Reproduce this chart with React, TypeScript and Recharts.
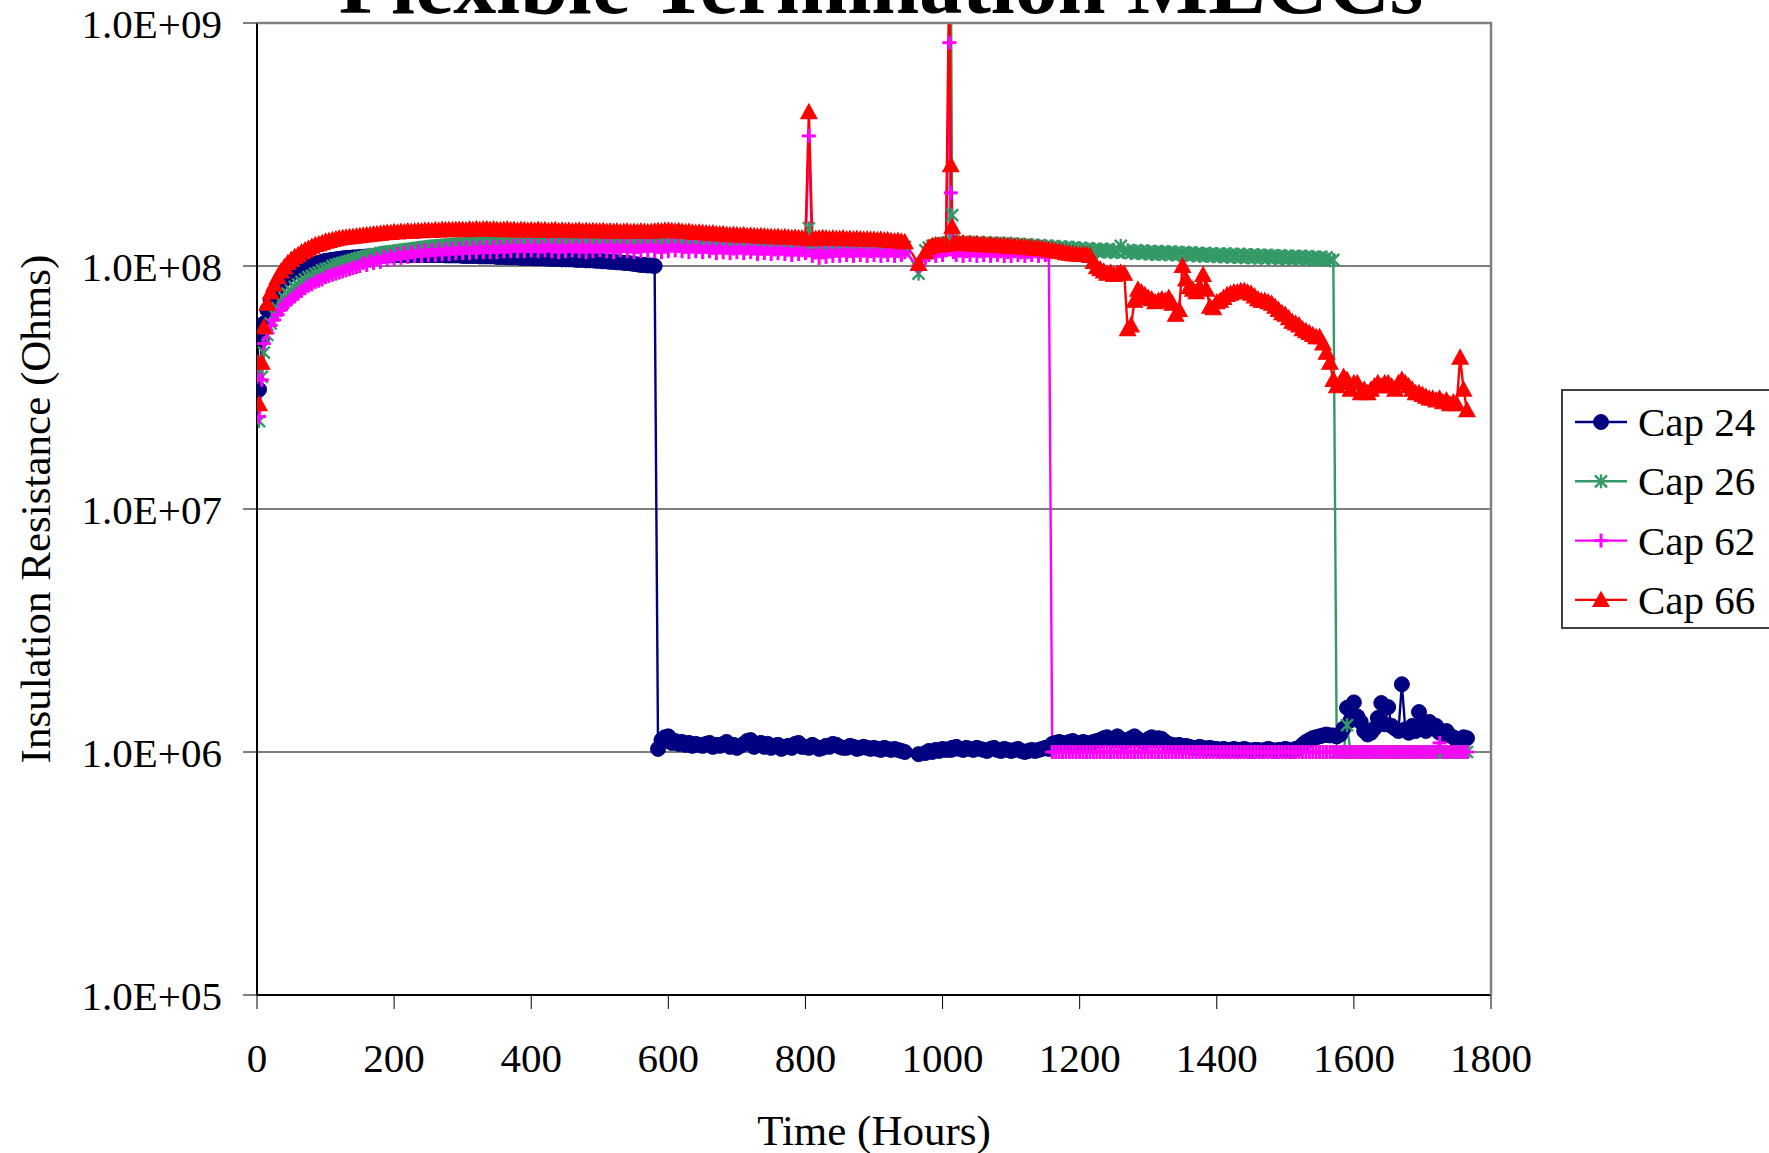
import React from 'react';
import { LineChart, Line, XAxis, YAxis, CartesianGrid } from 'recharts';

// Time in hours (shared by all four capacitors)
const HOURS = [
  0, 3, 7, 10, 15, 20, 25, 30, 35, 40, 45,
  50, 55, 60, 65, 70, 75, 80, 85, 90, 95,
  100, 105, 110, 115, 120, 125, 130, 135, 140, 145,
  150, 155, 160, 165, 170, 175, 180, 185, 190, 195,
  200, 205, 210, 215, 220, 225, 230, 235, 240, 245,
  250, 255, 260, 265, 270, 275, 280, 285, 290, 295,
  300, 305, 310, 315, 320, 325, 330, 335, 340, 345,
  350, 355, 360, 365, 370, 375, 380, 385, 390, 395,
  400, 405, 410, 415, 420, 425, 430, 435, 440, 445,
  450, 455, 460, 465, 470, 475, 480, 485, 490, 495,
  500, 505, 510, 515, 520, 525, 530, 535, 540, 545,
  550, 555, 560, 565, 570, 575, 580, 585, 590, 595,
  600, 605, 610, 615, 620, 625, 630, 635, 640, 645,
  650, 655, 660, 665, 670, 675, 680, 685, 690, 695,
  700, 705, 710, 715, 720, 725, 730, 735, 740, 745,
  750, 755, 760, 765, 770, 775, 780, 785, 790, 795,
  800, 805, 810, 815, 820, 825, 830, 835, 840, 845,
  850, 855, 860, 865, 870, 875, 880, 885, 890, 895,
  900, 905, 910, 915, 920, 925, 930, 935, 940, 945,
  965, 975, 980, 985, 990, 995, 1000, 1005, 1010, 1012, 1014, 1016,
  1020, 1025, 1030, 1035, 1040, 1045, 1050, 1055, 1060, 1065,
  1070, 1075, 1080, 1085, 1090, 1095, 1100, 1105, 1110, 1115,
  1120, 1125, 1130, 1135, 1140, 1145, 1150, 1155, 1160, 1165,
  1170, 1175, 1180, 1185, 1190, 1195, 1200, 1205, 1210, 1215,
  1220, 1225, 1230, 1235, 1240, 1245, 1250, 1255, 1260, 1265,
  1270, 1275, 1280, 1285, 1290, 1295, 1300, 1305, 1310, 1315,
  1320, 1325, 1330, 1335, 1340, 1345, 1350, 1355, 1360, 1365,
  1370, 1375, 1380, 1385, 1390, 1395, 1400, 1405, 1410, 1415,
  1420, 1425, 1430, 1435, 1440, 1445, 1450, 1455, 1460, 1465,
  1470, 1475, 1480, 1485, 1490, 1495, 1500, 1505, 1510, 1515,
  1520, 1525, 1530, 1535, 1540, 1545, 1550, 1555, 1560, 1565,
  1570, 1575, 1580, 1585, 1590, 1595, 1600, 1605, 1610, 1615,
  1620, 1625, 1630, 1635, 1640, 1645, 1650, 1655, 1660, 1665,
  1670, 1675, 1680, 1685, 1690, 1695, 1700, 1705, 1710, 1715,
  1720, 1725, 1730, 1735, 1740, 1745, 1750, 1755, 1760, 1765,
];

// Insulation resistance in megaohms
const CAP24 = [
  55, 31, 50, 58, 66, 72, 77, 81, 85, 88, 91,
  93, 95, 96, 98, 99, 100, 101, 102, 103, 104,
  105, 105.5, 106, 106.5, 107, 107.5, 108, 108, 108.5, 108.5,
  109, 109, 109.5, 109.5, 110, 110, 110, 110.5, 110.5, 110.5,
  110.5, 111, 111, 111, 111, 111, 111, 111, 111, 111,
  111, 111, 111, 111, 111, 110.5, 110.5, 110.5, 110.5, 110.5,
  110, 110, 110, 110, 110, 109.5, 109.5, 109.5, 109.5, 109.5,
  109, 109, 109, 108.5, 108.5, 108.5, 108.5, 108, 108, 108,
  108, 107.5, 107.5, 107.5, 107.5, 107, 107, 107, 107, 106.5,
  106.5, 106.5, 106.5, 106, 106, 106, 105.5, 105.5, 105.5, 105,
  105, 104.5, 104.5, 104, 104, 103.5, 103.5, 103, 103, 102.5,
  102, 101.5, 101, 101, 100.5, 100.5, 100, 1.03, 1.12, 1.15,
  1.16, 1.09, 1.11, 1.08, 1.10, 1.07, 1.09, 1.06, 1.08, 1.07,
  1.06, 1.08, 1.09, 1.05, 1.07, 1.06, 1.08, 1.10, 1.05, 1.07,
  1.04, 1.06, 1.08, 1.11, 1.12, 1.05, 1.07, 1.09, 1.05, 1.08,
  1.04, 1.06, 1.07, 1.03, 1.05, 1.06, 1.04, 1.08, 1.09, 1.05,
  1.05, 1.04, 1.07, 1.05, 1.03, 1.04, 1.06, 1.05, 1.08, 1.07,
  1.05, 1.04, 1.04, 1.06, 1.05, 1.03, 1.04, 1.05, 1.04, 1.03,
  1.04, 1.03, 1.02, 1.04, 1.03, 1.02, 1.03, 1.02, 1.01, 1.00,
  0.98, 0.99, 1.01, 1.00, 1.02, 1.01, 1.03, 1.02, 1.03, 1.02, 1.04, 1.03,
  1.05, 1.03, 1.02, 1.04, 1.03, 1.02, 1.04, 1.03, 1.02, 1.01,
  1.03, 1.04, 1.02, 1.01, 1.03, 1.02, 1.01, 1.02, 1.03, 1.01,
  1.00, 1.01, 1.02, 1.01, 1.02, 1.03, 1.04, 1.03, 1.08, 1.09,
  1.10, 1.09, 1.08, 1.10, 1.11, 1.09, 1.08, 1.10, 1.09, 1.08,
  1.10, 1.11, 1.12, 1.14, 1.15, 1.13, 1.12, 1.16, 1.13, 1.10,
  1.12, 1.14, 1.16, 1.13, 1.11, 1.10, 1.13, 1.15, 1.12, 1.14,
  1.13, 1.10, 1.08, 1.07, 1.06, 1.07, 1.05, 1.06, 1.05, 1.04,
  1.04, 1.05, 1.04, 1.03, 1.04, 1.03, 1.03, 1.02, 1.03, 1.02,
  1.02, 1.03, 1.02, 1.02, 1.03, 1.02, 1.01, 1.02, 1.02, 1.01,
  1.02, 1.03, 1.02, 1.01, 1.02, 1.02, 1.03, 1.02, 1.01, 1.03,
  1.04, 1.07, 1.10, 1.12, 1.14, 1.15, 1.16, 1.17, 1.18, 1.17,
  1.17, 1.16, 1.18, 1.25, 1.52, 1.35, 1.60, 1.40, 1.33, 1.22,
  1.18, 1.20, 1.25, 1.38, 1.59, 1.30, 1.53, 1.28, 1.25, 1.22,
  1.90, 1.24, 1.20, 1.28, 1.22, 1.46, 1.30, 1.22, 1.33, 1.25,
  1.28, 1.20, 1.18, 1.22, 1.17, 1.15, 1.12, 1.13, 1.15, 1.14,
];

const CAP26 = [
  36, 23, 35, 44, 52, 58, 63, 67, 71, 74, 77,
  79, 82, 84, 86, 88, 90, 91, 93, 94, 96,
  97, 98, 100, 101, 102, 103, 104, 105, 106, 107,
  108, 109, 110, 110.5, 111, 112, 113, 113.5, 114, 114.5,
  115, 115.5, 116, 116.5, 117, 117.5, 118, 118.5, 119, 119.5,
  120, 120.5, 121, 121, 121.5, 122, 122, 122.5, 123, 123,
  123, 123.5, 124, 124, 124, 124.5, 124.5, 125, 125, 125,
  125, 125.5, 125.5, 126, 126, 126, 126, 126, 126.5, 126.5,
  127, 127, 127, 127, 127, 127, 127, 127, 127, 127,
  127, 127, 127, 127, 127, 127, 127, 127, 127, 127,
  127, 127, 127, 127, 127, 127, 127, 127, 127, 127,
  127, 127, 127, 127, 127, 127, 127, 127, 127, 127,
  127, 127, 127, 127, 127, 127, 127, 127, 127, 127,
  126.5, 126.5, 126, 126, 126, 126, 126, 126, 125.5, 125.5,
  125.5, 125.5, 125, 125, 125, 125, 125, 125, 124.5, 124.5,
  124.5, 124.5, 124, 124, 124, 124, 124, 124, 124, 124,
  124, 143, 124, 124, 123.5, 123.5, 123.5, 123.5, 123, 123,
  123, 123, 123, 122.5, 122.5, 122.5, 122.5, 122, 122, 122,
  122, 122, 121.5, 121.5, 121.5, 121, 121, 121, 121, 120,
  93, 116, 119, 121, 122, 123, 124, 124, 125, 2000, 162, 130,
  125.5, 122.5, 125.5, 122.5, 125, 122, 125, 122, 124.5, 121.5,
  124.5, 121.5, 124, 121, 124, 120.5, 123.5, 120.5, 123, 120,
  122.5, 119.5, 122, 119, 121.5, 118.5, 121, 118, 120.5, 117.5,
  120, 117, 119.5, 116.5, 119, 116, 118.5, 115.5, 118, 115,
  117.5, 114.5, 117, 114.5, 117, 114, 116.5, 114, 121, 114,
  116, 113, 115.5, 113, 115.5, 112.5, 115, 112, 114.5, 112,
  114.5, 111.5, 114, 111.5, 114, 111, 113.5, 111, 113.5, 110.5,
  113, 110, 112.5, 110, 112.5, 109.5, 112, 109.5, 112, 109,
  112, 109, 111.5, 108.5, 111.5, 108.5, 111, 108, 111, 108,
  110.5, 108, 110.5, 107.5, 110, 107.5, 110, 107, 109.5, 107,
  109.5, 107, 109.5, 106.5, 109, 106, 108.5, 106, 108.5, 105.5,
  106, 1.0, 1.0, 1.0, 1.29, 1.0, 1.0, 1.0, 1.0, 1.0,
  1.0, 1.0, 1.0, 1.0, 1.0, 1.0, 1.0, 1.0, 1.0, 1.0,
  1.0, 1.0, 1.0, 1.0, 1.0, 1.0, 1.0, 1.0, 1.0, 1.0,
  1.0, 1.0, 1.0, 1.0, 1.0, 1.0, 1.0, 1.0, 1.0, 1.0,
];

const CAP62 = [
  35, 24, 34, 48, 53, 57, 60, 63, 66, 69, 71,
  73, 75, 77, 79, 81, 83, 84, 86, 87, 88,
  90, 91, 92, 93, 94, 95, 96, 97, 98, 99,
  100, 103, 101, 105, 103, 107, 104, 109, 106, 110,
  107, 112, 108, 113, 109, 114, 110, 115, 110, 116,
  111, 116, 111, 117, 112, 117, 112, 118, 113, 118,
  113, 119, 113, 119, 114, 119, 114, 120, 114, 120,
  114, 120, 115, 120, 115, 121, 115, 121, 115, 121,
  116, 121, 115, 120, 116, 122, 115, 121, 114, 121,
  115, 121, 116, 120, 115, 122, 114, 121, 115, 120,
  116, 121, 115, 122, 114, 120, 116, 121, 115, 121,
  114, 120, 115, 121, 116, 122, 115, 120, 114, 121,
  115, 122, 116, 121, 115, 120, 114, 121, 115, 120,
  114, 120, 115, 119, 113, 120, 114, 119, 113, 118,
  114, 119, 113, 118, 114, 119, 112, 118, 113, 118,
  112, 117, 113, 118, 112, 117, 111, 117, 112, 116,
  113, 343, 110, 116, 108, 114, 109, 115, 110, 116,
  110, 116, 111, 115, 110, 116, 111, 116, 110, 115,
  111, 116, 110, 115, 111, 116, 110, 115, 111, 114,
  100, 108, 111, 114, 110, 115, 111, 116, 830, 200, 137, 114,
  111, 116, 110, 115, 111, 116, 110, 115, 111, 116,
  110, 115, 111, 115, 110, 114, 110, 115, 111, 114,
  110, 114, 111, 115, 110, 114, 111, 112, 1.0, 1.0,
  1.0, 1.0, 1.0, 1.0, 1.0, 1.0, 1.0, 1.0, 1.0, 1.0,
  1.0, 1.0, 1.0, 1.0, 1.0, 1.0, 1.0, 1.0, 1.0, 1.0,
  1.0, 1.0, 1.0, 1.0, 1.0, 1.0, 1.0, 1.0, 1.0, 1.0,
  1.0, 1.0, 1.0, 1.0, 1.0, 1.0, 1.0, 1.0, 1.0, 1.0,
  1.0, 1.0, 1.0, 1.0, 1.0, 1.0, 1.0, 1.0, 1.0, 1.0,
  1.0, 1.0, 1.0, 1.0, 1.0, 1.0, 1.0, 1.0, 1.0, 1.0,
  1.0, 1.0, 1.0, 1.0, 1.0, 1.0, 1.0, 1.0, 1.0, 1.0,
  1.0, 1.0, 1.0, 1.0, 1.0, 1.0, 1.0, 1.0, 1.0, 1.0,
  1.0, 1.0, 1.0, 1.0, 1.0, 1.0, 1.0, 1.0, 1.0, 1.0,
  1.0, 1.0, 1.0, 1.0, 1.0, 1.0, 1.0, 1.0, 1.0, 1.0,
  1.0, 1.0, 1.0, 1.0, 1.0, 1.0, 1.0, 1.0, 1.0, 1.0,
  1.0, 1.09, 1.0, 1.0, 1.0, 1.0, 1.0, 1.0, 1.0, 1.0,
];

const CAP66 = [
  40, 27, 40, 56, 70, 78, 84, 90, 95, 99, 103,
  106, 109, 111, 114, 116, 118, 120, 122, 123, 124.5,
  126, 127, 128, 129, 130, 130.5, 131, 131.5, 132, 132.5,
  133, 133.5, 134, 134.5, 135, 135.5, 136, 136.5, 137, 137,
  138, 137.5, 138.5, 138, 139, 138.5, 139, 139.5, 139, 140,
  140, 139.5, 140.5, 140, 141, 140.5, 141, 140.5, 141, 141,
  141, 140.5, 141.5, 141, 142, 141, 141.5, 142, 141, 141.5,
  141, 140.5, 141, 141.5, 140.5, 141, 140, 141, 140.5, 140,
  140.5, 140, 141, 140, 140.5, 139.5, 140, 140.5, 139.5, 140,
  139.5, 140, 139, 139.5, 140, 139, 139.5, 139, 139.5, 139,
  139, 139.5, 138.5, 139, 138.5, 139, 138, 138.5, 139, 138,
  138.5, 138, 139, 138.5, 138, 138.5, 139, 139.5, 139, 140,
  140, 139.5, 139, 139.5, 138.5, 138, 138.5, 137.5, 137, 137.5,
  137, 136.5, 136, 136.5, 135.5, 135, 135.5, 134.5, 134, 134.5,
  134, 133.5, 134, 133, 133.5, 133, 132.5, 133, 132.5, 132,
  132, 131.5, 132, 131, 131.5, 131, 130.5, 131, 130.5, 130,
  130, 430, 129, 129.5, 130, 130.5, 130, 129.5, 130, 129.5,
  129.5, 130, 129, 129.5, 129, 129.5, 129, 128.5, 129, 128.5,
  128.5, 128, 128.5, 127.5, 128, 127, 126.5, 127, 126, 125.5,
  102, 114, 119, 121, 122, 121.5, 122, 122.5, 2000, 260, 145, 124,
  124, 123.5, 124, 123, 123.5, 122.5, 123, 122, 122.5, 121.5,
  122, 121.5, 121, 121.5, 120.5, 121, 120, 120.5, 119.5, 120,
  119, 119.5, 118.5, 118, 118.5, 117.5, 117, 116.5, 116, 115,
  114.5, 114, 113, 112.5, 112, 111.5, 111, 111.5, 111, 110,
  104, 99, 97, 95, 93, 94, 92, 93, 94, 93,
  55, 57, 72, 80, 78, 76, 74, 73, 71, 72,
  73, 72, 74, 70, 63, 66, 100, 88, 82, 80,
  78, 82, 92, 80, 68, 67, 71, 72, 74, 76,
  77, 78, 78, 79, 79, 78, 77, 75, 73, 72,
  72, 71, 70, 68, 66, 64, 63, 61, 59, 58,
  57, 55, 54, 53, 52, 51, 51, 48, 44, 40,
  34, 32, 33, 35, 34, 31, 33, 33, 30, 31,
  30, 31, 32, 33, 32, 33, 33, 32, 31, 33,
  34, 33, 32, 31, 30, 30, 29.5, 29, 28.5, 28.5,
  28, 28.5, 27.5, 28, 27, 27.5, 27, 42, 31, 25.5,
];

const X_TICKS = [0, 200, 400, 600, 800, 1000, 1200, 1400, 1600, 1800];
const Y_TICKS = [0.1, 1, 10, 100, 1000]; // megaohms
const Y_TICK_LABELS = ['1.0E+05', '1.0E+06', '1.0E+07', '1.0E+08', '1.0E+09'];

const TITLE = 'Flexible Termination MLCCs';
const X_LABEL = 'Time (Hours)';
const Y_LABEL = 'Insulation Resistance (Ohms)';

type MarkerKind = 'circle' | 'star' | 'plus' | 'triangle';

const SERIES: { key: string; name: string; color: string; marker: MarkerKind }[] = [
  { key: 'c24', name: 'Cap 24', color: '#000080', marker: 'circle' },
  { key: 'c26', name: 'Cap 26', color: '#339966', marker: 'star' },
  { key: 'c62', name: 'Cap 62', color: '#FF00FF', marker: 'plus' },
  { key: 'c66', name: 'Cap 66', color: '#FF0000', marker: 'triangle' },
];

const DATA = HOURS.map((h, i) => ({
  h,
  c24: CAP24[i],
  c26: CAP26[i],
  c62: CAP62[i],
  c66: CAP66[i],
}));

const FONT = '"Liberation Serif", "Times New Roman", serif';

function Marker({ kind, x, y, color }: { kind: MarkerKind; x: number; y: number; color: string }) {
  if (kind === 'circle') {
    return <circle cx={x} cy={y} r={7.5} fill={color} stroke={color} strokeWidth={1} />;
  }
  if (kind === 'star') {
    const s = 6;
    return (
      <g stroke={color} strokeWidth={2.4}>
        <line x1={x - s} y1={y - s} x2={x + s} y2={y + s} />
        <line x1={x - s} y1={y + s} x2={x + s} y2={y - s} />
        <line x1={x} y1={y - s - 1} x2={x} y2={y + s + 1} />
      </g>
    );
  }
  if (kind === 'plus') {
    const s = 7;
    return (
      <g stroke={color} strokeWidth={3}>
        <line x1={x - s} y1={y} x2={x + s} y2={y} />
        <line x1={x} y1={y - s} x2={x} y2={y + s} />
      </g>
    );
  }
  return (
    <path
      d={`M${x},${y - 8}L${x + 8},${y + 6.5}L${x - 8},${y + 6.5}Z`}
      fill={color}
      stroke={color}
      strokeWidth={1.2}
    />
  );
}

const makeDot = (kind: MarkerKind, color: string) => (props: any) => {
  const { cx, cy, index } = props;
  if (cx == null || cy == null || !isFinite(cx) || !isFinite(cy)) {
    return <g key={`d-${index}`} />;
  }
  return <Marker key={`d-${index}`} kind={kind} x={cx} y={cy} color={color} />;
};

const W = 1769;
const H = 1153;
const PL = 257;
const PR = 1491;
const PT = 23;
const PB = 995;

export default function App() {
  return (
    <div style={{ position: 'absolute', left: 0, top: 0, width: W, height: H, background: '#fff', fontFamily: FONT }}>
      <LineChart
        width={W}
        height={H}
        data={DATA}
        margin={{ top: PT, right: W - PR, bottom: 0, left: 0 }}
        style={{ fontFamily: FONT }}
      >
        <CartesianGrid horizontal vertical={false} stroke="#000" strokeWidth={1.2} />
        <XAxis
          type="number"
          dataKey="h"
          domain={[0, 1800]}
          ticks={X_TICKS}
          interval={0}
          allowDataOverflow
          height={H - PB}
          tickSize={14}
          tickMargin={34}
          axisLine={{ stroke: '#000', strokeWidth: 2 }}
          tickLine={{ stroke: '#000', strokeWidth: 1 }}
          tick={{ fontSize: 41, fill: '#000', fontFamily: FONT }}
        />
        <YAxis
          type="number"
          scale="log"
          domain={[0.1, 1000]}
          ticks={Y_TICKS}
          interval={0}
          allowDataOverflow
          width={PL}
          tickSize={14}
          tickMargin={21}
          axisLine={{ stroke: '#000', strokeWidth: 2 }}
          tickLine={{ stroke: '#000', strokeWidth: 1 }}
          tick={{ fontSize: 41, fill: '#000', fontFamily: FONT }}
          tickFormatter={(v: number) => Y_TICK_LABELS[Y_TICKS.indexOf(v)] ?? ''}
        />
        {SERIES.map((s) => (
          <Line
            key={s.key}
            type="linear"
            dataKey={s.key}
            name={s.name}
            stroke={s.color}
            strokeWidth={2.4}
            dot={makeDot(s.marker, s.color)}
            activeDot={false}
            isAnimationActive={false}
          />
        ))}
      </LineChart>
      <svg
        width={W}
        height={H}
        style={{ position: 'absolute', left: 0, top: 0, pointerEvents: 'none' }}
        fontFamily={FONT}
      >
        <text x={881} y={13} textAnchor="middle" fontWeight="bold" fontSize={86} fill="#000">
          {TITLE}
        </text>
        <path d={`M${PL},${PT} H${PR} V${PB}`} stroke="#808080" strokeWidth={2.5} fill="none" />
        <text x={(PL + PR) / 2} y={1145} textAnchor="middle" fontSize={43} fill="#000">
          {X_LABEL}
        </text>
        <text transform={`translate(50,${(PT + PB) / 2}) rotate(-90)`} textAnchor="middle" fontSize={43} fill="#000">
          {Y_LABEL}
        </text>
        <rect x={1562} y={390} width={220} height={238} fill="#fff" stroke="#404040" strokeWidth={2} />
        {SERIES.map((s, i) => {
          const y = 422 + i * 59.3;
          return (
            <g key={s.key}>
              <line x1={1575} y1={y} x2={1627} y2={y} stroke={s.color} strokeWidth={2.4} />
              <Marker kind={s.marker} x={1601} y={y} color={s.color} />
              <text x={1638} y={y + 14} fontSize={41} fill="#000">
                {s.name}
              </text>
            </g>
          );
        })}
      </svg>
    </div>
  );
}
